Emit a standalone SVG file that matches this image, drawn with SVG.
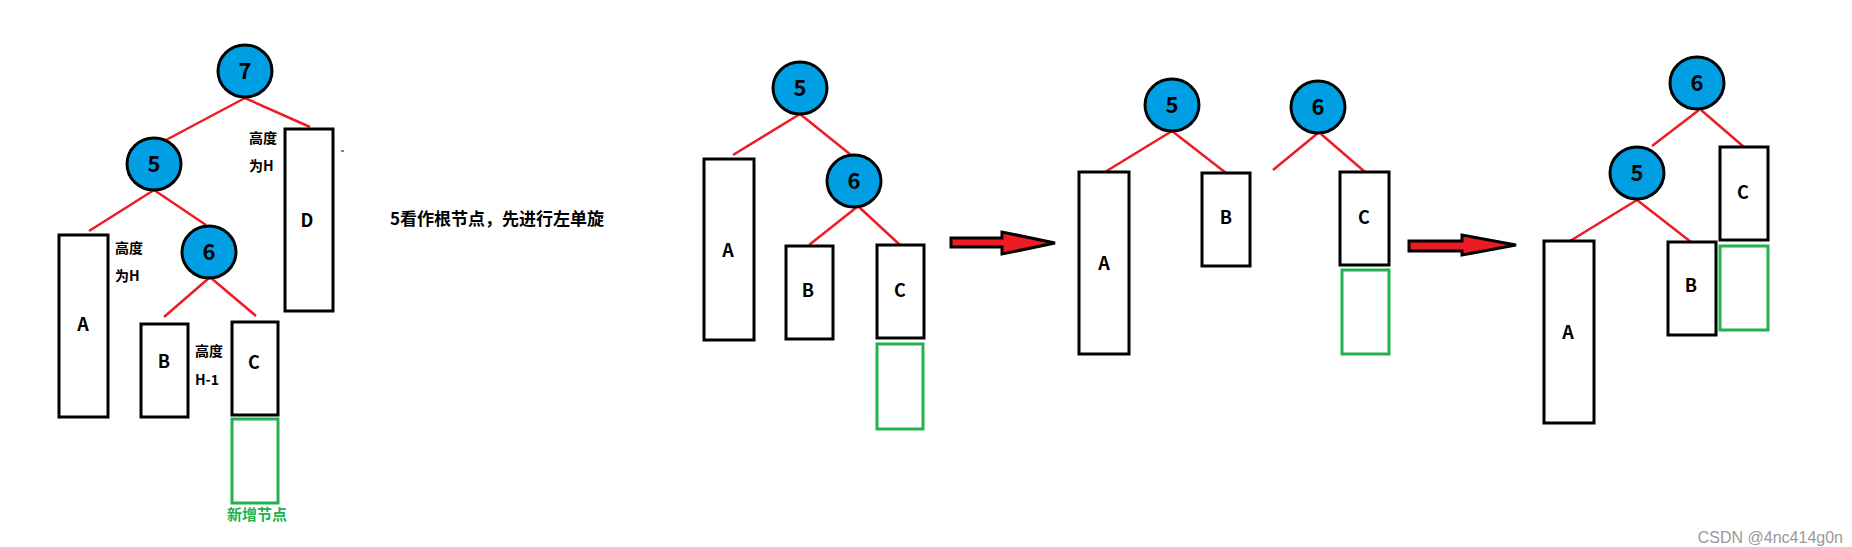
<svg xmlns="http://www.w3.org/2000/svg" width="1852" height="547" viewBox="0 0 1852 547">
<style>
.n{fill:#009fe3;stroke:#000;stroke-width:3}
.r{fill:#fff;stroke:#000;stroke-width:3}
.g{fill:none;stroke:#22b14c;stroke-width:3}
.e{stroke:#ed1c24;stroke-width:2.5;fill:none}
.t{font-family:"Noto Sans CJK SC","Liberation Sans",sans-serif;font-weight:bold;fill:#000;text-anchor:middle}
.nt{font-size:22px}
.lt{font-size:18px}
.s{font-family:"Noto Sans CJK SC","Liberation Sans",sans-serif;font-size:14px;font-weight:bold;fill:#000}
.ar{fill:#ed1c24;stroke:#000;stroke-width:3;stroke-linejoin:miter}
</style>
<rect width="1852" height="547" fill="#fff"/>
<g id="connectors">
<line class="e" x1="245" y1="98" x2="166" y2="140"/>
<line class="e" x1="245" y1="98" x2="310" y2="127"/>
<line class="e" x1="154" y1="190" x2="89" y2="231"/>
<line class="e" x1="154" y1="190" x2="206" y2="225"/>
<line class="e" x1="209" y1="278" x2="164" y2="317"/>
<line class="e" x1="211" y1="278" x2="256" y2="316"/>
<line class="e" x1="800" y1="114" x2="733" y2="155"/>
<line class="e" x1="800" y1="114" x2="851" y2="155"/>
<line class="e" x1="857" y1="207" x2="809" y2="245"/>
<line class="e" x1="859" y1="207" x2="900" y2="245"/>
<line class="e" x1="1172" y1="131" x2="1105" y2="172"/>
<line class="e" x1="1172" y1="131" x2="1226" y2="173"/>
<line class="e" x1="1318" y1="133" x2="1273" y2="170"/>
<line class="e" x1="1321" y1="134" x2="1365" y2="172"/>
<line class="e" x1="1699" y1="110" x2="1652" y2="146"/>
<line class="e" x1="1701" y1="110" x2="1744" y2="147"/>
<line class="e" x1="1637" y1="200" x2="1570" y2="241"/>
<line class="e" x1="1637" y1="200" x2="1691" y2="242"/>
<line x1="341" y1="151" x2="344" y2="151" stroke="#000" stroke-width="1"/>
</g>
<g id="arrow1"><path class="ar" d="M951 238 H1002 V232 L1055 243 L1002 254 V247 H951 Z"/></g>
<g id="arrow2"><path class="ar" d="M1409 241 H1462 V235 L1516 245 L1462 255 V251 H1409 Z"/></g>
<g id="p1-7"><ellipse class="n" cx="245" cy="71" rx="27" ry="26"/><text class="t nt" x="245" y="79">7</text></g>
<g id="p1-5"><ellipse class="n" cx="154" cy="164" rx="27" ry="26"/><text class="t nt" x="154" y="172">5</text></g>
<g id="p1-6"><ellipse class="n" cx="209" cy="252" rx="27" ry="26"/><text class="t nt" x="209" y="260">6</text></g>
<g id="p1-D"><rect class="r" x="285" y="129" width="48" height="182"/><text class="t lt" x="307" y="227">D</text></g>
<g id="p1-A"><rect class="r" x="59" y="235" width="49" height="182"/><text class="t lt" x="83" y="331">A</text></g>
<g id="p1-B"><rect class="r" x="141" y="324" width="47" height="93"/><text class="t lt" x="164" y="368">B</text></g>
<g id="p1-C"><rect class="r" x="232" y="322" width="46" height="93"/><text class="t lt" x="254" y="369">C</text></g>
<g id="p1-new"><rect class="g" x="232" y="419" width="46" height="84"/><text class="t" x="257" y="520" style="font-size:15px;fill:#22b14c">新增节点</text></g>
<g id="notes">
<text class="s" x="249" y="143">高度</text><text class="s" x="249" y="171">为H</text>
<text class="s" x="115" y="253">高度</text><text class="s" x="115" y="281">为H</text>
<text class="s" x="195" y="356">高度</text><text class="s" x="195" y="385">H-1</text>
<text x="390" y="225" style="font-family:'Noto Sans CJK SC','Liberation Sans',sans-serif;font-weight:bold;font-size:17px;fill:#000">5看作根节点，先进行左单旋</text>
</g>
<g id="p2-5"><ellipse class="n" cx="800" cy="88" rx="27" ry="26"/><text class="t nt" x="800" y="96">5</text></g>
<g id="p2-6"><ellipse class="n" cx="854" cy="181" rx="27" ry="26"/><text class="t nt" x="854" y="189">6</text></g>
<g id="p2-A"><rect class="r" x="704" y="159" width="50" height="181"/><text class="t lt" x="728" y="257">A</text></g>
<g id="p2-B"><rect class="r" x="786" y="246" width="47" height="93"/><text class="t lt" x="808" y="297">B</text></g>
<g id="p2-C"><rect class="r" x="877" y="245" width="47" height="93"/><text class="t lt" x="900" y="297">C</text></g>
<g id="p2-new"><rect class="g" x="877" y="344" width="46" height="85"/></g>
<g id="p3-5"><ellipse class="n" cx="1172" cy="105" rx="27" ry="26"/><text class="t nt" x="1172" y="113">5</text></g>
<g id="p3-6"><ellipse class="n" cx="1318" cy="107" rx="27" ry="26"/><text class="t nt" x="1318" y="115">6</text></g>
<g id="p3-A"><rect class="r" x="1079" y="172" width="50" height="182"/><text class="t lt" x="1104" y="270">A</text></g>
<g id="p3-B"><rect class="r" x="1202" y="173" width="48" height="93"/><text class="t lt" x="1226" y="224">B</text></g>
<g id="p3-C"><rect class="r" x="1340" y="172" width="49" height="93"/><text class="t lt" x="1364" y="224">C</text></g>
<g id="p3-new"><rect class="g" x="1342" y="270" width="47" height="84"/></g>
<g id="p4-6"><ellipse class="n" cx="1697" cy="83" rx="27" ry="26"/><text class="t nt" x="1697" y="91">6</text></g>
<g id="p4-5"><ellipse class="n" cx="1637" cy="173" rx="27" ry="26"/><text class="t nt" x="1637" y="181">5</text></g>
<g id="p4-C"><rect class="r" x="1720" y="147" width="48" height="93"/><text class="t lt" x="1743" y="199">C</text></g>
<g id="p4-new"><rect class="g" x="1720" y="246" width="48" height="84"/></g>
<g id="p4-A"><rect class="r" x="1544" y="241" width="50" height="182"/><text class="t lt" x="1568" y="339">A</text></g>
<g id="p4-B"><rect class="r" x="1668" y="242" width="48" height="93"/><text class="t lt" x="1691" y="292">B</text></g>
<text x="1843" y="543" text-anchor="end" style="font-family:'Liberation Sans',sans-serif;font-size:16px;fill:#999">CSDN @4nc414g0n</text>
</svg>
